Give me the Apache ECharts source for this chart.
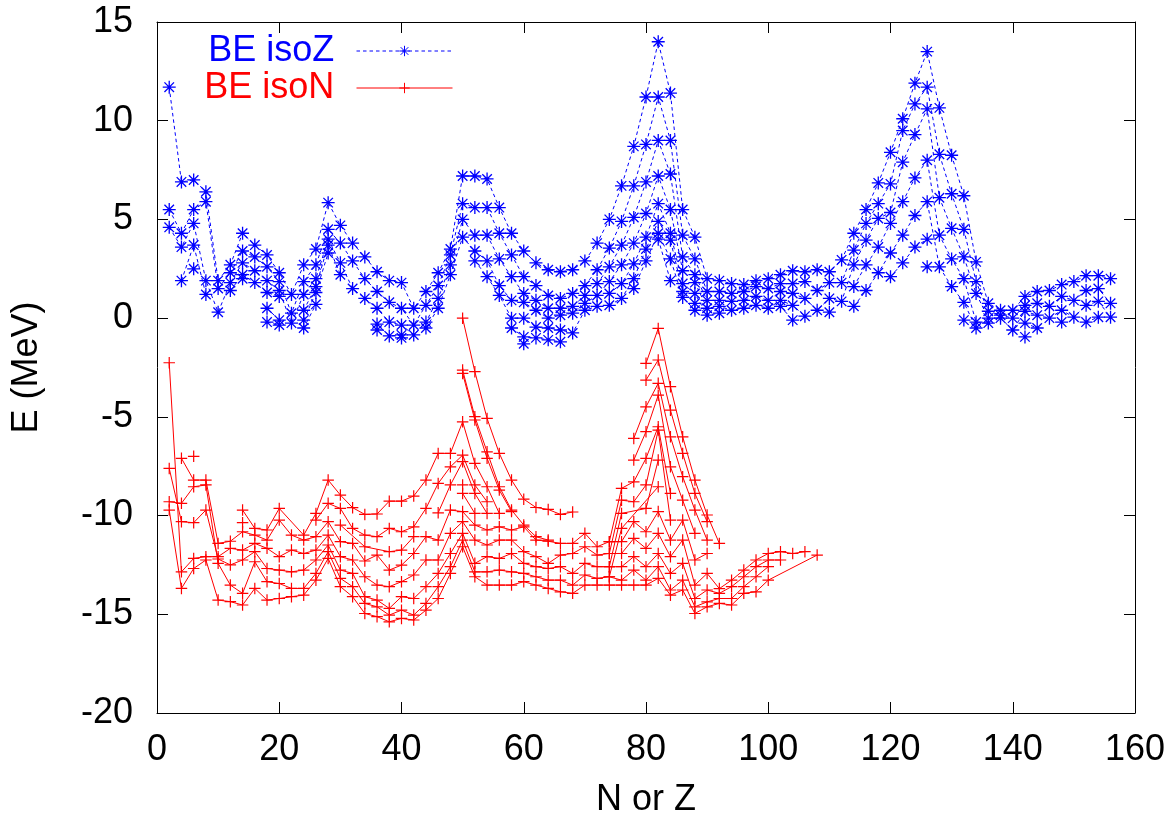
<!DOCTYPE html>
<html>
<head>
<meta charset="utf-8">
<title>BE isoZ / isoN</title>
<script src="https://cdn.jsdelivr.net/npm/echarts@6/dist/echarts.min.js"></script>
<style>
  html, body { margin: 0; padding: 0; background: #fff; }
  #chart { width: 1172px; height: 823px; }
</style>
</head>
<body>
<div id="chart"></div>
<script>
// ---- Axis ticks -------------------------------------------------------
const xTicks = [0, 20, 40, 60, 80, 100, 120, 140, 160];
const yTicks = [-20, -15, -10, -5, 0, 5, 10, 15];

// ---- BE isoZ readings: [N, values at that N (MeV), highest first] ------
const isoZ_light = [
  [2, 11.7, 5.5, 4.6],
  [4, 6.9, 4.3, 3.6, 1.9],
  [6, 7.0, 5.5, 4.8, 3.7, 2.5],
  [8, 6.4, 5.9, 1.9, 1.2],
  [10, 1.9, 1.5, 0.3],
  [12, 2.7, 2.3, 1.8, 1.4],
  [14, 4.3, 3.4, 2.8, 2.2, 2.0],
  [16, 3.7, 3.1, 2.4, 1.8],
  [18, 3.2, 2.6, 1.9, 1.3, 0.5, -0.2],
  [20, 2.3, 1.85, 1.4, 1.1, -0.1, -0.35],
  [22, 1.2, 0.25, -0.25],
  [24, 2.7, 1.85, 1.2, 0.4, -0.1, -0.5],
  [26, 3.5, 2.7, 2.0, 1.6, 1.3, 0.7],
  [28, 5.85, 4.5, 4.0, 3.7, 3.3],
  [30, 4.7, 3.8, 2.8, 2.2],
  [32, 3.8, 2.9, 1.5],
  [34, 3.1, 2.0, 1.0],
  [36, 2.35, 1.35, 0.5, -0.3, -0.6],
  [38, 1.9, 0.8, -0.2, -0.9],
  [40, 1.8, 0.5, -0.35, -0.85, -1.0],
  [42, 0.5, -0.35, -0.85],
  [44, 1.35, 0.65, -0.2, -0.5],
  [46, 2.3, 1.65, 1.0, 0.5],
  [48, 3.5, 3.2, 2.7, 2.2]
];
const isoZ_mid = [
  [50, 7.2, 5.8, 5.0, 4.1],
  [52, 7.2, 5.6, 4.2, 3.4, 2.9],
  [54, 7.05, 5.6, 4.2, 2.9, 2.1],
  [56, 5.6, 4.3, 3.0, 1.65, 1.15],
  [58, 4.3, 3.2, 2.1, 0.9, 0.0, -0.5],
  [60, 3.4, 2.1, 1.25, 0.8, 0.0, -0.95, -1.3],
  [62, 2.8, 1.65, 0.9, 0.4, -0.45, -1.0],
  [64, 2.45, 1.15, 0.5, 0.0, -0.5, -1.1],
  [66, 2.35, 1.0, 0.5, 0.15, -0.6, -1.2],
  [68, 2.45, 1.25, 0.6, 0.25, -0.75],
  [70, 2.9, 1.65, 1.15, 0.75, 0.4],
  [72, 3.8, 2.45, 1.75, 1.15, 0.6],
  [74, 5.0, 3.55, 2.6, 1.85, 1.25, 0.65],
  [76, 6.7, 4.9, 3.7, 2.7, 1.75, 1.0],
  [78, 8.7, 6.7, 5.1, 3.8, 2.75, 2.0, 1.5],
  [80, 11.2, 8.8, 6.9, 5.3, 4.1, 3.5, 2.9],
  [82, 14.0, 11.2, 9.0, 7.2, 5.8, 4.9, 4.3, 4.0],
  [84, 11.4, 9.0, 7.3, 5.5, 4.3, 3.95, 3.0, 1.9],
  [86, 5.5, 4.2, 3.1, 2.4, 1.75, 1.35, 1.05],
  [88, 4.1, 3.0, 2.2, 1.8, 1.25, 0.75, 0.4]
];
const isoZ_heavy = [
  [90, 2.0, 1.35, 0.9, 0.5, 0.15],
  [92, 1.9, 1.35, 0.9, 0.6, 0.25],
  [94, 1.75, 1.25, 0.85, 0.4],
  [96, 1.7, 1.35, 0.9, 0.5],
  [98, 1.9, 1.6, 1.1, 0.65],
  [100, 2.0, 1.5, 0.9, 0.5],
  [102, 2.2, 1.75, 1.35, 0.9, 0.6],
  [104, 2.4, 1.75, 1.25, 0.65, -0.1],
  [106, 2.35, 1.85, 1.0, 0.1],
  [108, 2.45, 1.4, 0.4],
  [110, 2.35, 1.8, 1.0, 0.3],
  [112, 2.95, 1.8, 0.85],
  [114, 4.3, 3.45, 2.7, 1.6, 0.6],
  [116, 5.5, 4.8, 3.95, 2.7, 1.4],
  [118, 6.85, 5.8, 5.05, 3.6, 2.3],
  [120, 8.4, 6.8, 5.35, 4.8, 3.3, 2.1],
  [122, 10.1, 9.5, 7.9, 5.9, 4.2, 2.8],
  [124, 11.9, 10.85, 9.3, 7.1, 5.2, 3.6],
  [126, 13.5, 11.7, 10.6, 8.0, 5.9, 4.0, 2.6],
  [128, 10.65, 8.3, 6.1, 4.2, 2.6],
  [130, 8.25, 6.3, 4.55, 3.0, 1.6],
  [132, 6.2, 4.5, 3.1, 2.0, 0.8, -0.1],
  [134, 2.85, 1.85, 1.25, -0.2, -0.5],
  [136, 0.75, 0.35, 0.0, -0.25],
  [138, 0.4, 0.15, 0.0],
  [140, 0.4, 0.0, -0.6],
  [142, 1.1, 0.65, 0.35, -0.25, -0.95],
  [144, 1.35, 0.75, 0.15, -0.5],
  [146, 1.4, 0.6, 0.0],
  [148, 1.7, 1.1, 0.4, -0.2],
  [150, 1.85, 0.9, 0.05],
  [152, 2.15, 1.4, 0.65, -0.2],
  [154, 2.15, 1.5, 0.85, 0.05],
  [156, 2.0, 0.75, 0.05]
];

// ---- BE isoN chains: first Z (z0), then values every 2 units of Z -----
const isoN_b1 = { z0: 2, be: [-9.72, -13.69, -12.68, -12.25, -14.28, -14.36, -14.53, -13.69, -14.28, -14.2,
  -14.11, -14.03, -13.27, -12.17, -13.6, -14.11, -14.96, -15.12, -15.38, -15.21,
  -15.29, -14.79, -14.2, -12.93, -11.58, -13.1, -13.52, -13.52, -13.52, -13.35,
  -13.52, -13.69, -13.86, -13.94, -13.52, -13.52, -13.52, -13.52, -13.52, -13.52,
  -13.18, -14.03, -13.77, -14.96, -14.62, -14.45, -14.53, -13.94, -13.86, -13.27,
  null, null, null, -12.0] };
const isoN_b2 = { z0: 2, be: [-9.3, -9.38, -8.54, -8.45, -12.42, -13.52, -13.94, -12.34, -13.35, -13.44,
  -13.69, -13.69, -12.93, -11.83, -13.18, -13.6, -14.45, -14.62, -15.04, -14.79,
  -15.04, -14.45, -13.6, -12.59, -11.24, -12.85, -12.85, -12.76, -12.85, -12.93,
  -13.1, -13.27, -13.27, -13.52, -13.01, -13.18, -13.1, -13.27, -12.76, -13.27,
  -12.59, -13.77, -13.27, -14.62, -14.37, -14.2, -14.2, -13.6, -13.1, -12.59] };
const isoN_b3 = { z0: 2, be: [-7.61, -10.31, -10.36, -9.72, -12.2, -12.5, -12.25, -11.83, -12.68, -12.76,
  -12.85, -12.76, -12.25, -11.49, -12.76, -12.93, -14.11, -14.28, -14.7, -14.11,
  -14.2, -13.6, -12.93, -11.92, -10.9, -12.42, -12.08, -12.17, -11.92, -12.42,
  -12.59, -12.68, -12.59, -12.93, -12.42, -12.59, -12.59, -12.59, -12.08, -12.59,
  -11.92, -12.93, -12.42, -14.2, -13.77, -13.94, -13.6, -13.1, -12.59, -12.25, -12.25] };
const isoN_b4 = { z0: 2, be: [-2.26, -12.85, -12.17, -12.08, -12.08, -11.66, -11.75, -11.41, -11.66, -12.08,
  -11.75, -11.92, -11.75, -10.99, -12.08, -12.25, -13.1, -13.52, -13.6, -13.35,
  -13.01, -12.25, -12.25, -10.9, -10.31, -11.24, -11.49, -11.24, -11.24, -11.83,
  -12.08, -12.42, -12.0, -11.92, -11.58, -12.0, -11.92, -11.92, -11.16, -11.66,
  -10.9, -12.08, -11.24, -13.52, -12.93, -13.7, -13.27, -12.76, -12.25, -11.92,
  -11.83, -11.92, -11.83] };
const isoN_b5 = { z0: 4, be: [-7.1, -8.2, -8.2, -11.41, -11.3, -10.82, -10.99, -11.24, -10.23, -10.99,
  -11.24, -11.07, -10.31, -11.32, -11.41, -12.3, -12.0, -12.76, -12.51, -11.92,
  -11.07, -11.24, -9.72, -9.8, -10.48, -10.73, -10.57, -10.73, -10.57, -11.24,
  -11.3, -11.41, -11.41, -10.9, -11.58, -11.32, -11.32, -10.31, -10.82, -9.8,
  -11.24, -10.23, -12.25, -11.92] };
const isoN_u1 = { z0: 50, be: [0, -2.71, -5.08, -6.85, -8.2, -9.17, -9.59, -9.69, -9.94, -9.82] };
const isoN_u2 = { z0: 50, be: [-2.63, -4.99, -6.77, -8.54, -9.72, -10.48, -11.07, -11.24] };
const isoN_u3 = { z0: 50, be: [-2.8, -5.16, -7.1, -8.71, -9.8] };
const isoN_u4 = { z0: 14, be: [-9.72, -10.65, -10.73, -9.64, null, -10.99, -9.89, -8.2, -8.96, -9.6,
  -9.94, -9.92, -9.27, -9.27, -9.01, -8.2, -6.85, -6.85, -5.25, -7.36, -8.54, -9.89] };
const isoN_u5 = { z0: 26, be: [-10.23, -9.38, -9.64, -10.65, -10.99, -11.07, -10.65, -10.82, -10.57, -9.64,
  -8.37, -7.53, -6.94, -8.45, -9.3] };
const isoN_u6 = { z0: 30, be: [-10.48, null, -11.58, null, -11.83, -11.75, -11.07] };
const isoN_u7 = { z0: 46, be: [-9.86, -8.45, -7.27, -8.88, -9.89] };
const isoN_u8 = { z0: 50, be: [-8.88, -9.89] };
const isoN_s1 = { z0: 6, be: [-7.0] };
const isoN_s2 = { z0: 14, be: [-10.36] };
const isoN_s3 = { z0: 50, be: [-8.45] };
const isoN_r1 = { z0: 80, be: [-2.29, -0.52, -3.47, -6.01, -8.2, -9.97, -11.41] };
const isoN_r2 = { z0: 80, be: [-3.14, -2.12, -4.66, -6.85, -8.88, -10.31] };
const isoN_r3 = { z0: 78, be: [-6.09, -4.49, -3.3, -6.01, -8.03, -9.72, -11.24] };
const isoN_r4 = { z0: 78, be: [-7.19, -5.75, -3.9, -7.53, -9.22, -10.9] };
const isoN_r5 = { z0: 74, be: [-11.32, -8.62, -8.29, -7.1, -5.5, -8.88] };
const isoN_r6 = { z0: 74, be: [-11.92, -9.22, -9.3, -8.45, -5.67, -10.23] };
const isoN_r7 = { z0: 74, be: [-12.59, -9.89, null, -9.64, -7.19] };
const isoN_r8 = { z0: 74, be: [-13.1, -10.65, null, null, -8.54] };

// ---- Styling ------------------------------------------------------------
const FONT = '"Liberation Sans", Arial, Helvetica, sans-serif';
const BLUE = '#0000ff';
const RED = '#ff0000';
const ASTERISK = 'path://M0 6L12 6M6 0L6 12M1.6 1.6L10.4 10.4M10.4 1.6L1.6 10.4';
const PLUS = 'path://M0 6L12 6M6 0L6 12';

// Split the isoZ readings into rank-ordered polylines (k-th highest value at each N).
function isoZLines(rows) {
  const depth = Math.max(...rows.map(r => r.length - 1));
  const lines = [];
  for (let k = 1; k <= depth; k++) {
    lines.push(rows.map(r => [r[0], k < r.length ? r[k] : null]));
  }
  return lines;
}

function chainPoints(c) {
  return c.be.map((v, i) => [c.z0 + 2 * i, v]);
}

const isoZRows = [].concat(isoZ_light, isoZ_mid, isoZ_heavy);
const isoNChains = [isoN_b1, isoN_b2, isoN_b3, isoN_b4, isoN_b5,
  isoN_u1, isoN_u2, isoN_u3, isoN_u4, isoN_u5, isoN_u6, isoN_u7, isoN_u8,
  isoN_s1, isoN_s2, isoN_s3,
  isoN_r1, isoN_r2, isoN_r3, isoN_r4, isoN_r5, isoN_r6, isoN_r7, isoN_r8];

const series = [];
isoZLines(isoZRows).forEach(data => {
  series.push({
    type: 'line', name: 'BE isoZ', data,
    symbol: ASTERISK, symbolSize: 13,
    connectNulls: false, clip: true,
    lineStyle: { color: BLUE, width: 1, type: [3.5, 3] },
    itemStyle: { color: BLUE, borderColor: BLUE, borderWidth: 1.3 },
    emphasis: { disabled: true }
  });
});
isoNChains.forEach(c => {
  series.push({
    type: 'line', name: 'BE isoN', data: chainPoints(c),
    symbol: PLUS, symbolSize: 11.5,
    connectNulls: true, clip: true,
    lineStyle: { color: RED, width: 1, type: 'solid' },
    itemStyle: { color: RED, borderColor: RED, borderWidth: 1.2 },
    emphasis: { disabled: true }
  });
});

const axisLine = { show: true, onZero: false, lineStyle: { color: '#000', width: 1 } };
const axisTick = { show: true, inside: true, length: 11, lineStyle: { color: '#000', width: 1 } };
const labelStyle = { fontFamily: FONT, fontSize: 36, color: '#000' };

const chart = echarts.init(document.getElementById('chart'), null, { renderer: 'canvas' });
chart.setOption({
  animation: false,
  backgroundColor: '#fff',
  grid: { left: 157, right: 37, top: 22, bottom: 110, containLabel: false },
  legend: {
    orient: 'vertical', right: 719, top: 33, padding: 0,
    itemGap: 1, itemWidth: 96, itemHeight: 13, align: 'right',
    selectedMode: false,
    formatter: name => name + ' \u2009',
    textStyle: { fontFamily: FONT, fontSize: 36 },
    itemStyle: { borderWidth: 1 },
    lineStyle: { width: 1 },
    data: [
      { name: 'BE isoZ', textStyle: { color: BLUE } },
      { name: 'BE isoN', textStyle: { color: RED } }
    ]
  },
  xAxis: [
    {
      type: 'value', min: xTicks[0], max: xTicks[xTicks.length - 1], interval: 20,
      position: 'bottom',
      name: 'N or Z', nameLocation: 'middle', nameGap: 69, nameTextStyle: labelStyle,
      axisLine, axisTick,
      axisLabel: Object.assign({ margin: 19 }, labelStyle),
      splitLine: { show: false }
    },
    {
      type: 'value', min: xTicks[0], max: xTicks[xTicks.length - 1], interval: 20,
      position: 'top', axisLine, axisTick,
      axisLabel: { show: false }, splitLine: { show: false }
    }
  ],
  yAxis: [
    {
      type: 'value', min: yTicks[0], max: yTicks[yTicks.length - 1], interval: 5,
      position: 'left',
      name: 'E (MeV)', nameLocation: 'middle', nameGap: 112, nameRotate: 90, nameTextStyle: labelStyle,
      axisLine, axisTick,
      axisLabel: Object.assign({ margin: 24 }, labelStyle),
      splitLine: { show: false }
    },
    {
      type: 'value', min: yTicks[0], max: yTicks[yTicks.length - 1], interval: 5,
      position: 'right', axisLine, axisTick,
      axisLabel: { show: false }, splitLine: { show: false }
    }
  ],
  series
});
</script>
</body>
</html>
